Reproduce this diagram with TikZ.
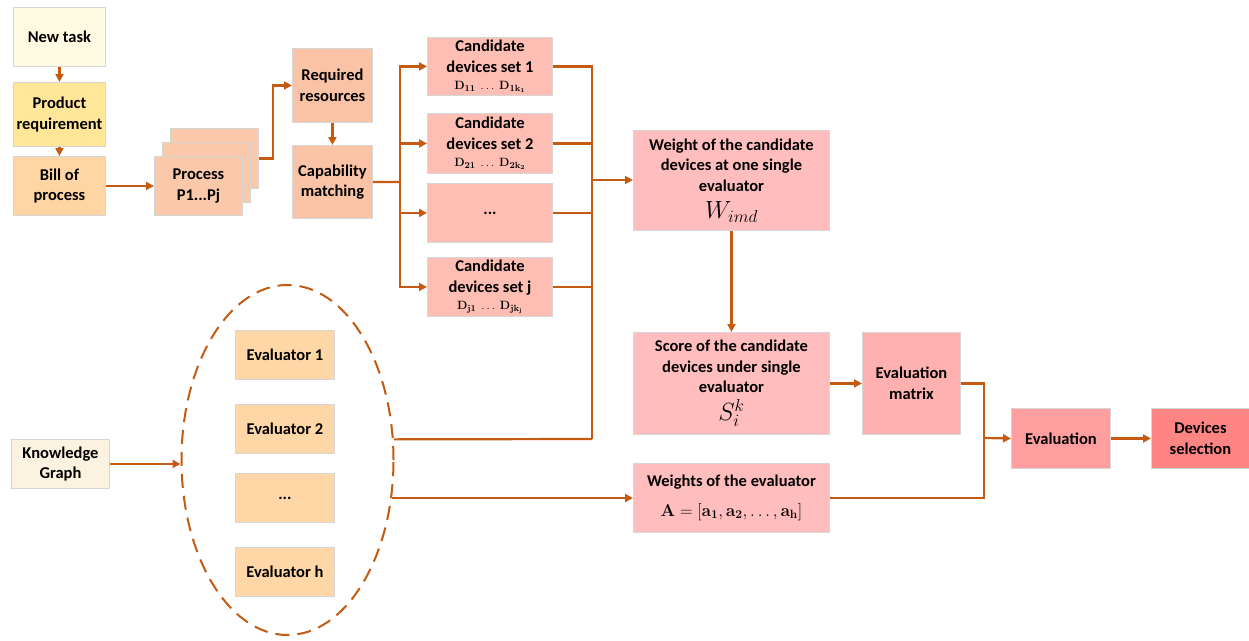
\documentclass[tikz,border=0pt]{standalone}
\usepackage[no-math]{fontspec}
\setmainfont{Carlito}
\usetikzlibrary{arrows.meta,shapes.geometric}
\definecolor{arrc}{HTML}{C55A11}
\definecolor{edgec}{HTML}{D6D6D6}
\definecolor{cNew}{HTML}{FFFBE3}
\definecolor{cProd}{HTML}{FFE699}
\definecolor{cBill}{HTML}{FFD6A3}
\definecolor{cProc}{HTML}{FBC9AA}
\definecolor{cReq}{HTML}{FBC3A5}
\definecolor{cCand}{HTML}{FEBEB3}
\definecolor{cW}{HTML}{FFBDBD}
\definecolor{cEM}{HTML}{FFB1AF}
\definecolor{cEv}{HTML}{FF9E9F}
\definecolor{cDS}{HTML}{FF8585}
\definecolor{cEval}{HTML}{FFD6A6}
\definecolor{cKG}{HTML}{FCF2E0}
\tikzset{
  box/.style={draw=edgec, line width=0.9pt, anchor=north west, inner sep=0pt, align=center,
    font=\fontsize{16.5}{20.5}\selectfont\bfseries},
  arr/.style={draw=arrc, line width=2.2pt, -{Triangle[length=8pt,width=8pt]}},
  lnk/.style={draw=arrc, line width=2.2pt}
}
\newcommand{\bx}[7]{\node[box, fill=#2, minimum width=#5, minimum height=#6] (#1) at (#3,#4) {#7};}
\newcommand{\dline}[1]{{\fontsize{12.5}{13}\selectfont$#1$}}
\begin{document}
\begin{tikzpicture}[x=1pt,y=-1pt]
\useasboundingbox (0,0) rectangle (1249,640);
% left column
\bx{newtask}{cNew}{13}{7}{92}{59}{New task}
\bx{prodreq}{cProd}{13}{82}{92}{64}{Product\\requirement}
\bx{bill}{cBill}{13}{156}{92}{59}{Bill of\\process}
% process stack
\bx{procback}{cProc}{170}{128}{88}{60}{}
\bx{procmid}{cProc}{162}{142}{88}{60}{}
\bx{proc}{cProc}{154}{156}{88}{59}{Process\\P1...Pj}
% resources
\bx{req}{cReq}{292}{48}{80}{74}{Required\\resources}
\bx{cap}{cReq}{292}{145}{80}{73}{Capability\\matching}
% candidates
\bx{c1}{cCand}{427}{37}{125}{58}{Candidate\\devices set 1\\[-3pt]\dline{\mathbf{D_{11}}\ \ldots\ \mathbf{D_{1k_1}}}}
\bx{c2}{cCand}{427}{113}{125}{60}{Candidate\\devices set 2\\[-3pt]\dline{\mathbf{D_{21}}\ \ldots\ \mathbf{D_{2k_2}}}}
\bx{c3}{cCand}{427}{183}{125}{59}{...}
\bx{cj}{cCand}{427}{257}{125}{59}{Candidate\\devices set j\\[-3pt]\dline{\mathbf{D_{j1}}\ \ldots\ \mathbf{D_{jk_j}}}}
% weight / score
\bx{weight}{cW}{633}{130}{196}{100}{Weight of the candidate\\devices at one single\\evaluator\\[7pt]{\fontsize{23}{24}\selectfont\mdseries$W_{imd}$}}
\bx{score}{cW}{633}{332}{196}{102}{Score of the candidate\\devices under single\\evaluator\\[6pt]{\fontsize{23}{24}\selectfont\mdseries$S_i^k$}}
\bx{evm}{cEM}{862}{332}{98}{102}{Evaluation\\matrix}
\bx{weights}{cW}{633}{463}{196}{69}{Weights of the evaluator\\[9pt]{\fontsize{16.5}{18}\selectfont$\mathbf{A}=[\mathbf{a_1},\mathbf{a_2},\ldots,\mathbf{a_h}]$}}
\bx{eval}{cEv}{1011}{408}{99}{60}{Evaluation}
\bx{devsel}{cDS}{1151}{408}{98}{60}{Devices\\selection}
% evaluators
\bx{e1}{cEval}{235}{330}{99}{49}{Evaluator 1}
\bx{e2}{cEval}{235}{404}{99}{49}{Evaluator 2}
\bx{e3}{cEval}{235}{473}{99}{49}{...}
\bx{eh}{cEval}{235}{547}{99}{49}{Evaluator h}
\node[ellipse, draw=arrc, line width=2pt, dash pattern=on 14pt off 8pt, minimum width=212, minimum height=350, inner sep=0pt] (grp) at (287.5,460) {};
\bx{kg}{cKG}{11}{439}{98}{49}{Knowledge\\Graph}
% connectors left
\draw[arr] (newtask.south) -- (prodreq.north);
\draw[arr] (prodreq.south) -- (bill.north);
\draw[arr] (bill.east) -- (proc.west |- bill.east);
\draw[arr] (procback.east) -- ++(14,0) |- (req.west);
\draw[arr] (req.south) -- (cap.north);
\coordinate (busL) at (400,182);
\draw[lnk] (cap.east) -- (busL);
\draw[arr] (busL) |- (c1.west);
\draw[arr] (busL) |- (c2.west);
\draw[arr] (busL) |- (c3.west);
\draw[arr] (busL) |- (cj.west);
% right bus
\coordinate (busR) at (592,180);
\coordinate (busB) at (592,439);
\draw[lnk] (c1.east) -| (busB);
\draw[lnk] (c2.east) -- (c2.east -| busR);
\draw[lnk] (c3.east) -- (c3.east -| busR);
\draw[lnk] (cj.east) -- (cj.east -| busR);
\draw[lnk] (grp.11) -- (busB);
\draw[arr] (busR) -- (weight.west |- busR);
\draw[arr] (weight.south) -- (score.north);
\draw[arr] (score.east) -- (evm.west);
\draw[arr] (kg.east) -- (grp.west |- kg.east);
\draw[arr] (grp.340) -- (weights.west |- grp.340);
\coordinate (j) at (984,438);
\draw[lnk] (evm.east) -| (j);
\draw[lnk] (weights.east) -| (j);
\draw[arr] (j) -- (eval.west);
\draw[arr] (eval.east) -- (devsel.west);
\end{tikzpicture}
\end{document}
